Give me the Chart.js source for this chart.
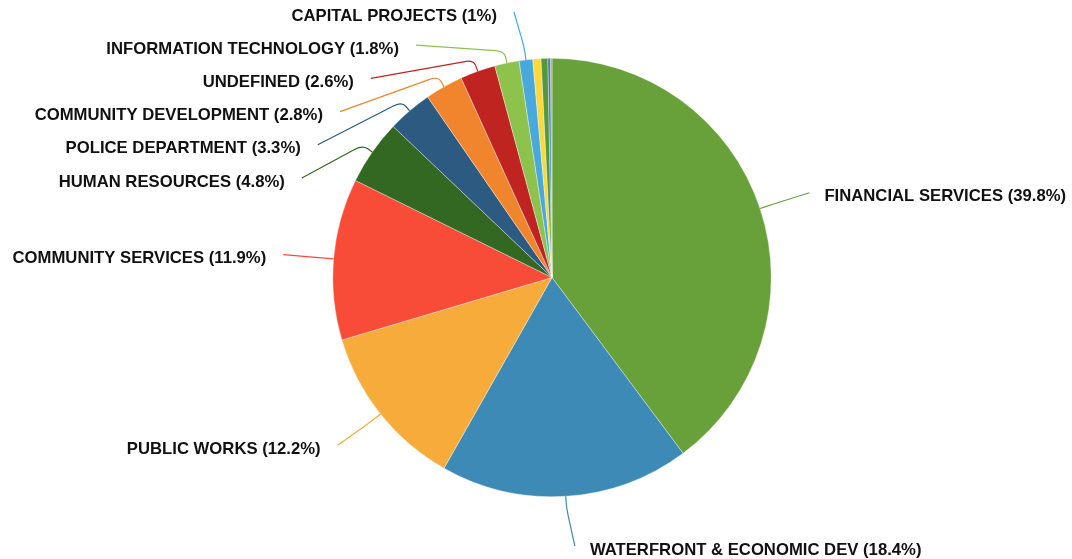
<!DOCTYPE html>
<html lang="en">
<head>
    <meta charset="UTF-8">
    <title>Department Share</title>
    <script src="https://cdn.jsdelivr.net/npm/chart.js"></script>
    <style>
        body { margin: 0; background: #fff; }
        .chart-box { width: 1072px; height: 559px; position: relative; }
    </style>
</head>
<body>
    <div class="chart-box">
        <canvas id="pieChart"></canvas>
    </div>

    <script>
        // slices, clockwise from 12 o'clock
        const departments = [
            'FINANCIAL SERVICES', 'WATERFRONT & ECONOMIC DEV', 'PUBLIC WORKS', 'COMMUNITY SERVICES',
            'HUMAN RESOURCES', 'POLICE DEPARTMENT', 'COMMUNITY DEVELOPMENT', 'UNDEFINED',
            'INFORMATION TECHNOLOGY', 'CAPITAL PROJECTS', 'CITY MANAGER', 'CITY COUNCIL',
            'CITY CLERK', 'CITY ATTORNEY'
        ];
        const shares = [39.8, 18.4, 12.2, 11.9, 4.8, 3.3, 2.8, 2.6, 1.8, 1, 0.6, 0.5, 0.2, 0.1];
        const sliceColors = [
            '#68a03a', '#3d8ab6', '#f7ab3a', '#f84c39', '#336822', '#2c5a80', '#f0852e',
            '#bf2420', '#8dc24d', '#4aa9dc', '#fbd93c', '#55983b', '#3b7dc3', '#ea8a4a'
        ];
        const labelMin = 1; // smaller slices get no label

        const outsideLabels = {
            id: 'outsideLabels',
            afterDatasetsDraw(chart) {
                const ctx = chart.ctx;
                const arcs = chart.getDatasetMeta(0).data;
                const items = [];
                arcs.forEach((arc, i) => {
                    if (shares[i] < labelMin) return;
                    const p = arc.getProps(['x', 'y', 'startAngle', 'endAngle', 'outerRadius']);
                    const a = (p.startAngle + p.endAngle) / 2;
                    const y0 = p.y + Math.sin(a) * (p.outerRadius + 50) + 4;
                    items.push({
                        i, a, cx: p.x, cy: p.y, r: p.outerRadius,
                        side: Math.cos(a) >= 0 ? 1 : -1,
                        y0, y: y0
                    });
                });

                // push overlapping labels down, per side
                [1, -1].forEach(side => {
                    const list = items.filter(it => it.side === side).sort((a, b) => a.y - b.y);
                    let prev = -Infinity;
                    list.forEach(it => {
                        it.y = Math.max(it.y, prev + 33.2, 16);
                        prev = it.y;
                    });
                });

                ctx.save();
                ctx.font = 'bold 16.7px "Liberation Sans", Arial, sans-serif';
                ctx.textBaseline = 'middle';
                items.forEach(it => {
                    const color = sliceColors[it.i];
                    const R = it.r + 50;
                    const ey = it.y - 4;
                    let ex;
                    if (it.y - it.y0 < 5) {
                        ex = it.cx + Math.cos(it.a) * R + it.side * 6 * Math.abs(Math.sin(it.a));
                    } else {
                        const dy = ey - it.cy;
                        ex = it.cx + it.side * Math.sqrt(Math.max(R * R - dy * dy, 0));
                    }
                    const pt = d => ({ x: it.cx + Math.cos(it.a) * (it.r + d), y: it.cy + Math.sin(it.a) * (it.r + d) });
                    const p0 = pt(0), p1 = pt(6), p2 = pt(12);
                    const len = Math.hypot(ex - p2.x, ey - p2.y) || 1;
                    const p3 = { x: p2.x + (ex - p2.x) * 9 / len, y: p2.y + (ey - p2.y) * 9 / len };

                    ctx.strokeStyle = color;
                    ctx.lineWidth = 1.2;
                    ctx.beginPath();
                    ctx.moveTo(p0.x, p0.y);
                    ctx.lineTo(p1.x, p1.y);
                    ctx.quadraticCurveTo(p2.x, p2.y, p3.x, p3.y);
                    ctx.lineTo(ex, ey);
                    ctx.stroke();

                    ctx.fillStyle = '#111';
                    ctx.textAlign = it.side > 0 ? 'left' : 'right';
                    ctx.fillText(`${departments[it.i]} (${shares[it.i]}%)`, ex + it.side * (it.side > 0 ? 15 : 17), it.y);
                });
                ctx.restore();
            }
        };

        new Chart(document.getElementById('pieChart'), {
            type: 'pie',
            data: {
                labels: departments,
                datasets: [{
                    data: shares,
                    backgroundColor: sliceColors,
                    borderColor: 'rgba(255,255,255,0.6)',
                    borderWidth: 0.6
                }]
            },
            options: {
                responsive: true,
                maintainAspectRatio: false,
                animation: false,
                layout: { padding: { top: 58, bottom: 62, left: 32, right: 0 } },
                plugins: {
                    legend: { display: false },
                    tooltip: { enabled: false }
                }
            },
            plugins: [outsideLabels]
        });
    </script>
</body>
</html>
